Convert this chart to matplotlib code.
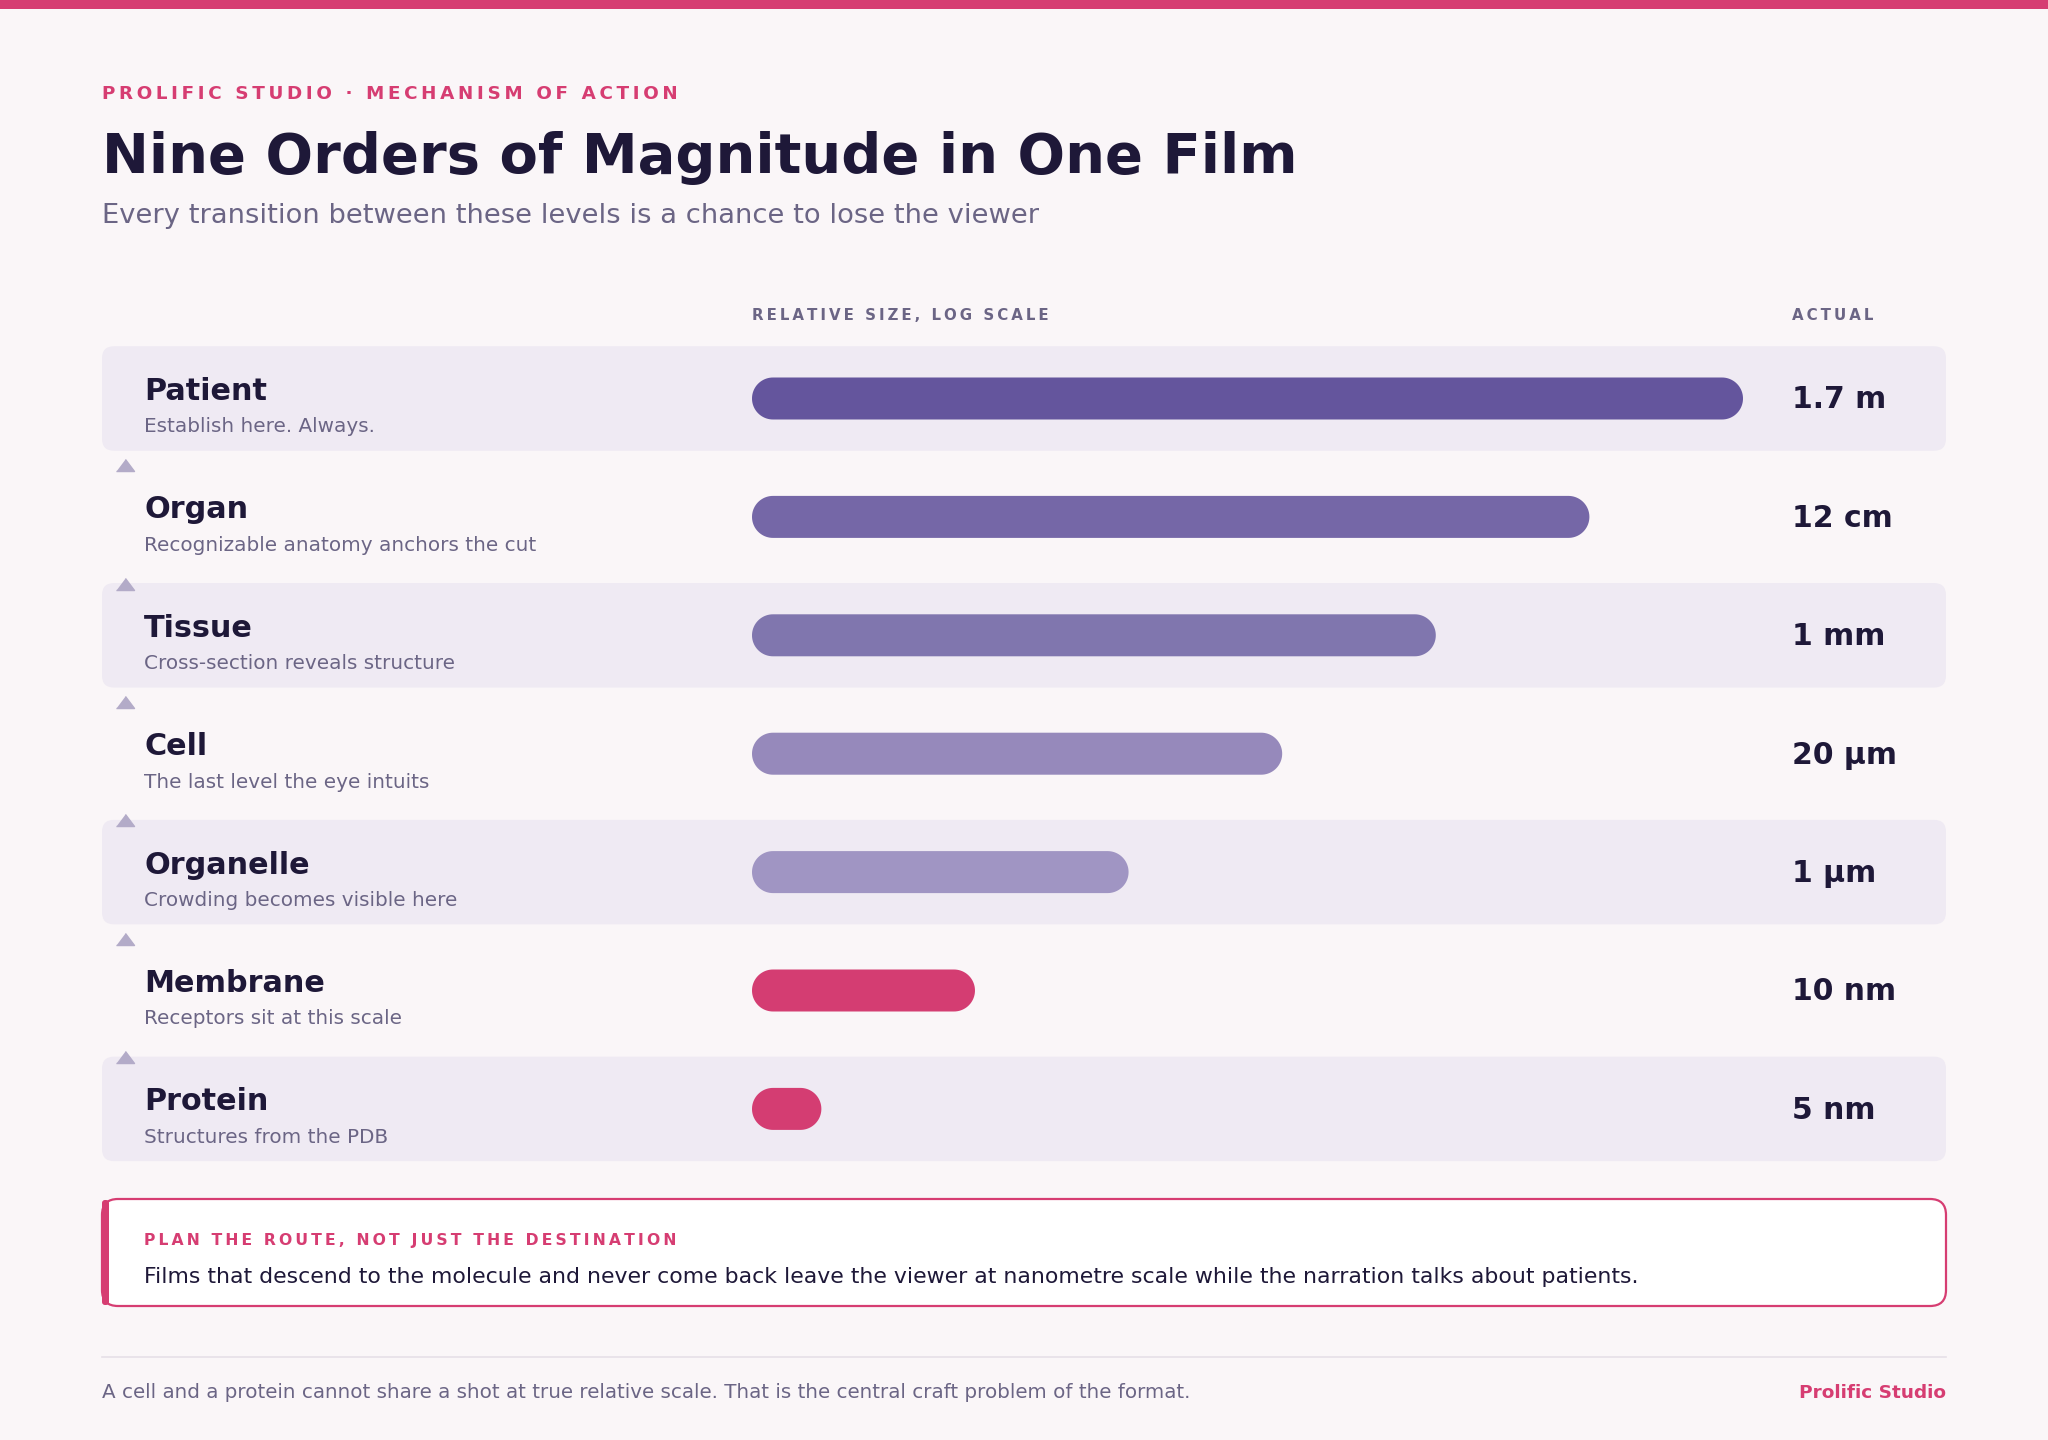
import matplotlib
matplotlib.use("Agg")
import matplotlib.pyplot as plt
import numpy as np
from matplotlib.patches import FancyBboxPatch, Rectangle, Polygon

# data
levels = ["Patient", "Organ", "Tissue", "Cell", "Organelle", "Membrane", "Protein"]
notes = [
    "Establish here. Always.",
    "Recognizable anatomy anchors the cut",
    "Cross-section reveals structure",
    "The last level the eye intuits",
    "Crowding becomes visible here",
    "Receptors sit at this scale",
    "Structures from the PDB",
]
actual = ["1.7 m", "12 cm", "1 mm", "20 µm", "1 µm", "10 nm", "5 nm"]
rel_size = [100, 84.5, 69, 53.5, 38, 22.5, 7]
bar_colors = ["#64559d", "#7567a7", "#8076ae", "#9689bb", "#a095c3", "#d43d72", "#d43d72"]

# colours
BG = "#faf6f8"
BAND = "#efeaf3"
DARK = "#1e1838"
GREY = "#6b6585"
PINK = "#d63d72"
TRI = "#b3abc8"

W, H = 2048, 1440
ROW_H = 118.4          # px per row
FIRST_ROW = 398.5      # px, centre of first row
n = len(levels)


def spaced(s):
    # poor man's letter-spacing
    return "\u2009".join(s)


def capsule(ax, x0, x1, y, rx, ry, color):
    # pill shape with true semicircular ends, in data units
    t = np.linspace(np.pi / 2, 3 * np.pi / 2, 40)
    left = np.column_stack([x0 + rx + rx * np.cos(t), y + ry * np.sin(t)])
    t = np.linspace(-np.pi / 2, np.pi / 2, 40)
    right = np.column_stack([x1 - rx + rx * np.cos(t), y + ry * np.sin(t)])
    ax.add_patch(Polygon(np.vstack([left, right]), closed=True, fc=color, ec="none"))


fig = plt.figure(figsize=(W / 100, H / 100), dpi=100)
fig.patch.set_facecolor(BG)

# full-page axes in pixel units
bg = fig.add_axes([0, 0, 1, 1])
bg.set_xlim(0, W)
bg.set_ylim(H, 0)
bg.axis("off")

bg.add_patch(Rectangle((0, 0), W, 9, color=PINK, lw=0))

bg.text(102, 99, spaced("PROLIFIC STUDIO · MECHANISM OF ACTION"), fontsize=13.2,
        fontweight="bold", color=PINK, va="baseline")
bg.text(102, 173, "Nine Orders of Magnitude in One Film", fontsize=40.3,
        fontweight="bold", color=DARK, va="baseline")
bg.text(102, 223, "Every transition between these levels is a chance to lose the viewer",
        fontsize=19.75, color=GREY, va="baseline")

bg.text(752, 320, spaced("RELATIVE SIZE, LOG SCALE"), fontsize=10.8, fontweight="bold",
        color=GREY, va="baseline")
bg.text(1792, 320, spaced("ACTUAL"), fontsize=10.8, fontweight="bold", color=GREY,
        va="baseline")

# rows axes: x in px, y in row index
top_px = FIRST_ROW - ROW_H / 2
bot_px = FIRST_ROW + (n - 0.5) * ROW_H
ax_b = 1 - bot_px / H
ax_h = (bot_px - top_px) / H

rows = fig.add_axes([0, ax_b, 1, ax_h])
rows.set_xlim(0, W)
rows.set_ylim(n - 0.5, -0.5)
rows.axis("off")
rows.patch.set_alpha(0)

u = 1 / ROW_H  # one pixel in row units
band_h = 104.5 * u
for i in range(n):
    if i % 2 == 0:
        rows.add_patch(FancyBboxPatch((102, i - band_h / 2), 1844, band_h,
                                      boxstyle="round,pad=0,rounding_size=12",
                                      mutation_aspect=u, fc=BAND, ec="none"))
    rows.text(144, i + 1.5 * u, levels[i], fontsize=21.8, fontweight="bold",
              color=DARK, va="baseline")
    rows.text(144, i + 34 * u, notes[i], fontsize=14.4, color=GREY, va="baseline")
    rows.text(1792, i + 10 * u, actual[i], fontsize=21.5, fontweight="bold",
              color=DARK, va="baseline")
    if i > 0:
        rows.plot([125], [i - band_h / 2 + 0.5 * u], marker=[(-9, -6), (9, -6), (0, 6)],
                  markersize=13, color=TRI, ls="none")

# bar axes: x in percent of track
bars = fig.add_axes([752 / W, ax_b, 991 / W, ax_h])
bars.set_xlim(0, 100)
bars.set_ylim(n - 0.5, -0.5)
bars.axis("off")
bars.patch.set_alpha(0)

px_x = 100 / 991
rx, ry = 21 * px_x, 21 * u   # capsule end radius, in x and y data units
for i, (v, c) in enumerate(zip(rel_size, bar_colors)):
    capsule(bars, 0, v, i, rx, ry, c)

# callout
bg.add_patch(FancyBboxPatch((102, 1199), 1844, 107, boxstyle="round,pad=0,rounding_size=16",
                            fc="white", ec=PINK, lw=1.6))
bg.add_patch(FancyBboxPatch((102, 1200), 7, 105, boxstyle="round,pad=0,rounding_size=3",
                            fc=PINK, ec="none"))
bg.text(144, 1245, spaced("PLAN THE ROUTE, NOT JUST THE DESTINATION"), fontsize=11.25,
        fontweight="bold", color=PINK, va="baseline")
bg.text(144, 1283, "Films that descend to the molecule and never come back leave the viewer "
        "at nanometre scale while the narration talks about patients.",
        fontsize=15.8, color=DARK, va="baseline")

# footer
bg.plot([102, 1946], [1357, 1357], color="#e6e0e8", lw=1.2)
bg.text(102, 1398, "A cell and a protein cannot share a shot at true relative scale. "
        "That is the central craft problem of the format.",
        fontsize=14.3, color=GREY, va="baseline")
bg.text(1946, 1398, "Prolific Studio", fontsize=13.3, fontweight="bold", color=PINK,
        ha="right", va="baseline")

fig.savefig("out.png", dpi=100, facecolor=BG)
